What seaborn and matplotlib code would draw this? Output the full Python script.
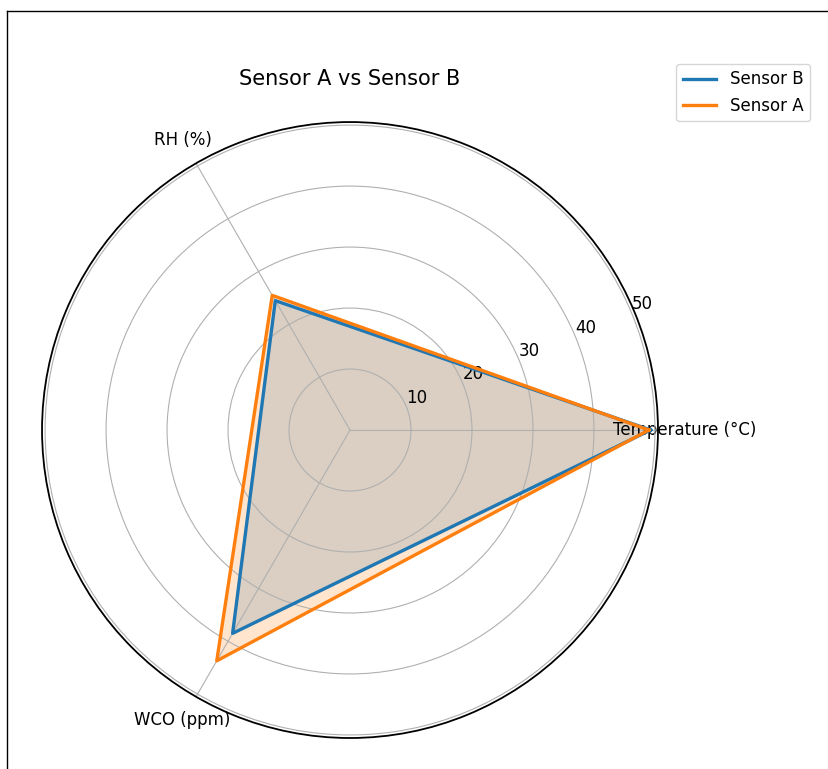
import numpy as np
import pandas as pd
import matplotlib
matplotlib.use("Agg")
import matplotlib.pyplot as plt
from matplotlib.lines import Line2D
import seaborn as sns

# Radar chart comparing two sensors
categories = ["Temperature (°C)", "RH (%)", "WCO (ppm)"]
sensor_a = [49.0, 25.5, 43.7]
sensor_b = [49.3, 24.5, 38.5]
series_names = ["Sensor B", "Sensor A"]
radial_ticks = [10, 20, 30, 40, 50]

palette = sns.color_palette("tab10")
colors = {"Sensor B": palette[0], "Sensor A": palette[1]}

n = len(categories)
angles = np.linspace(0, 2 * np.pi, n, endpoint=False)

def closed(values):
    return np.concatenate([angles, angles[:1] + 2 * np.pi]), np.concatenate([values, values[:1]])

fig = plt.figure(figsize=(8.29, 7.69), dpi=100)
ax = fig.add_axes([0.0507, 0.0403, 0.743, 0.801], projection="polar")

series = {"Sensor B": sensor_b, "Sensor A": sensor_a}
for name in series_names:
    th, r = closed(np.array(series[name], dtype=float))
    df = pd.DataFrame({"theta": th, "r": r})
    sns.lineplot(data=df, x="theta", y="r", ax=ax, sort=False, estimator=None,
                 color=colors[name], linewidth=2.4, label=name)
    ax.fill(th, r, color=colors[name], alpha=0.2)

ax.set_xticks(angles)
ax.set_xticklabels(categories, fontsize=12)
ax.tick_params(axis="x", pad=9)
ax.set_yticks(radial_ticks)
ax.set_yticklabels([str(t) for t in radial_ticks], fontsize=12)
ax.set_ylim(0, 50.5)
ax.set_xlabel("")
ax.set_ylabel("")
ax.grid(True, color="#b0b0b0", linewidth=0.8)
ax.spines["polar"].set_linewidth(1.3)

ax.set_title("Sensor A vs Sensor B", fontsize=15, pad=27)
ax.legend(loc="upper right", bbox_to_anchor=(0.987, 0.928),
          bbox_transform=fig.transFigure, fontsize=12, frameon=True)

# thin frame lines along the top and left edges
fig.add_artist(Line2D([7 / 829, 1.0], [1 - 11 / 769, 1 - 11 / 769],
                      transform=fig.transFigure, color="black", linewidth=1))
fig.add_artist(Line2D([7 / 829, 7 / 829], [0.0, 1 - 11 / 769],
                      transform=fig.transFigure, color="black", linewidth=1))

fig.savefig("out.png", dpi=100)
